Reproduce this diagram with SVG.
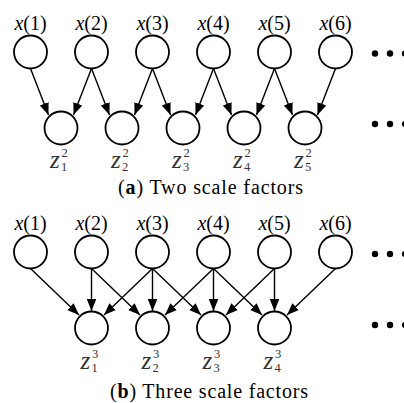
<svg xmlns="http://www.w3.org/2000/svg" width="404" height="403" viewBox="0 0 404 403">
  <style>
    .node { fill: #fff; stroke: #000; stroke-width: 1.8; }
    .edge { stroke: #000; stroke-width: 1.4; fill: none; marker-end: url(#arrow); }
    .dot { fill: #000; }
    text { font-family: 'Liberation Serif', 'DejaVu Serif', serif; }
    .xl { font-size: 20px; fill: #000; text-anchor: middle; }
    .xl .v { font-style: italic; }
    .zl { font-style: italic; font-size: 25px; fill: #333; }
    .sc { font-size: 12.5px; fill: #333; }
    .cap { font-size: 20px; fill: #000; }
    .cap .b { font-weight: bold; }
  </style>
  <defs>
    <marker id="arrow" markerUnits="userSpaceOnUse" markerWidth="13" markerHeight="10" refX="12" refY="4.75" orient="auto">
      <path d="M0,0 L12,4.75 L0,9.5 z" fill="#000"/>
    </marker>
  </defs>

  <!-- (a) two scale factors -->
  <g id="connectors-a">
    <line class="edge" x1="30.5" y1="68.5" x2="48.5" y2="115"/>
    <line class="edge" x1="91.5" y1="68.5" x2="73.5" y2="115"/>
    <line class="edge" x1="91.5" y1="68.5" x2="109.5" y2="115"/>
    <line class="edge" x1="152.5" y1="68.5" x2="134.5" y2="115"/>
    <line class="edge" x1="152.5" y1="68.5" x2="170.5" y2="115"/>
    <line class="edge" x1="213.5" y1="68.5" x2="195.5" y2="115"/>
    <line class="edge" x1="213.5" y1="68.5" x2="231.5" y2="115"/>
    <line class="edge" x1="274.5" y1="68.5" x2="256.5" y2="115"/>
    <line class="edge" x1="274.5" y1="68.5" x2="292.5" y2="115"/>
    <line class="edge" x1="335.5" y1="68.5" x2="317.5" y2="115"/>
  </g>

  <g id="a-x1"><text class="xl" x="30.5" y="30"><tspan class="v">x</tspan>(1)</text><circle class="node" cx="30.5" cy="52" r="16.5"/></g>
  <g id="a-x2"><text class="xl" x="91.5" y="30"><tspan class="v">x</tspan>(2)</text><circle class="node" cx="91.5" cy="52" r="16.5"/></g>
  <g id="a-x3"><text class="xl" x="152.5" y="30"><tspan class="v">x</tspan>(3)</text><circle class="node" cx="152.5" cy="52" r="16.5"/></g>
  <g id="a-x4"><text class="xl" x="213.5" y="30"><tspan class="v">x</tspan>(4)</text><circle class="node" cx="213.5" cy="52" r="16.5"/></g>
  <g id="a-x5"><text class="xl" x="274.5" y="30"><tspan class="v">x</tspan>(5)</text><circle class="node" cx="274.5" cy="52" r="16.5"/></g>
  <g id="a-x6"><text class="xl" x="335.5" y="30"><tspan class="v">x</tspan>(6)</text><circle class="node" cx="335.5" cy="52" r="16.5"/></g>

  <g id="a-z1"><circle class="node" cx="61" cy="128" r="16.5"/><text class="zl" x="50" y="168">z</text><text class="sc" x="61.5" y="157">2</text><text class="sc" x="61" y="171">1</text></g>
  <g id="a-z2"><circle class="node" cx="122" cy="128" r="16.5"/><text class="zl" x="111" y="168">z</text><text class="sc" x="122.5" y="157">2</text><text class="sc" x="122" y="171">2</text></g>
  <g id="a-z3"><circle class="node" cx="183" cy="128" r="16.5"/><text class="zl" x="172" y="168">z</text><text class="sc" x="183.5" y="157">2</text><text class="sc" x="183" y="171">3</text></g>
  <g id="a-z4"><circle class="node" cx="244" cy="128" r="16.5"/><text class="zl" x="233" y="168">z</text><text class="sc" x="244.5" y="157">2</text><text class="sc" x="244" y="171">4</text></g>
  <g id="a-z5"><circle class="node" cx="305" cy="128" r="16.5"/><text class="zl" x="294" y="168">z</text><text class="sc" x="305.5" y="157">2</text><text class="sc" x="305" y="171">5</text></g>

  <g id="a-dots">
    <circle class="dot" cx="375" cy="53.5" r="3.2"/><circle class="dot" cx="390" cy="53.5" r="3.2"/><circle class="dot" cx="405" cy="53.5" r="3.2"/>
    <circle class="dot" cx="375" cy="124" r="3.2"/><circle class="dot" cx="390" cy="124" r="3.2"/><circle class="dot" cx="405" cy="124" r="3.2"/>
  </g>

  <text class="cap" x="118" y="194" textLength="185" lengthAdjust="spacing">(<tspan class="b">a</tspan>) Two scale factors</text>

  <!-- (b) three scale factors -->
  <g id="connectors-b">
    <line class="edge" x1="30.5" y1="268.5" x2="79" y2="315"/>
    <line class="edge" x1="91.5" y1="268.5" x2="91.5" y2="311"/>
    <line class="edge" x1="91.5" y1="268.5" x2="140" y2="315"/>
    <line class="edge" x1="152.5" y1="268.5" x2="104" y2="315"/>
    <line class="edge" x1="152.5" y1="268.5" x2="152.5" y2="311"/>
    <line class="edge" x1="152.5" y1="268.5" x2="201" y2="315"/>
    <line class="edge" x1="213.5" y1="268.5" x2="165" y2="315"/>
    <line class="edge" x1="213.5" y1="268.5" x2="213.5" y2="311"/>
    <line class="edge" x1="213.5" y1="268.5" x2="262" y2="315"/>
    <line class="edge" x1="274.5" y1="268.5" x2="226" y2="315"/>
    <line class="edge" x1="274.5" y1="268.5" x2="274.5" y2="311"/>
    <line class="edge" x1="335.5" y1="268.5" x2="287" y2="315"/>
  </g>

  <g id="b-x1"><text class="xl" x="30.5" y="230"><tspan class="v">x</tspan>(1)</text><circle class="node" cx="30.5" cy="252" r="16.5"/></g>
  <g id="b-x2"><text class="xl" x="91.5" y="230"><tspan class="v">x</tspan>(2)</text><circle class="node" cx="91.5" cy="252" r="16.5"/></g>
  <g id="b-x3"><text class="xl" x="152.5" y="230"><tspan class="v">x</tspan>(3)</text><circle class="node" cx="152.5" cy="252" r="16.5"/></g>
  <g id="b-x4"><text class="xl" x="213.5" y="230"><tspan class="v">x</tspan>(4)</text><circle class="node" cx="213.5" cy="252" r="16.5"/></g>
  <g id="b-x5"><text class="xl" x="274.5" y="230"><tspan class="v">x</tspan>(5)</text><circle class="node" cx="274.5" cy="252" r="16.5"/></g>
  <g id="b-x6"><text class="xl" x="335.5" y="230"><tspan class="v">x</tspan>(6)</text><circle class="node" cx="335.5" cy="252" r="16.5"/></g>

  <g id="b-z1"><circle class="node" cx="91.5" cy="328" r="16.5"/><text class="zl" x="80.5" y="369">z</text><text class="sc" x="92" y="358">3</text><text class="sc" x="91.5" y="372">1</text></g>
  <g id="b-z2"><circle class="node" cx="152.5" cy="328" r="16.5"/><text class="zl" x="141.5" y="369">z</text><text class="sc" x="153" y="358">3</text><text class="sc" x="152.5" y="372">2</text></g>
  <g id="b-z3"><circle class="node" cx="213.5" cy="328" r="16.5"/><text class="zl" x="202.5" y="369">z</text><text class="sc" x="214" y="358">3</text><text class="sc" x="213.5" y="372">3</text></g>
  <g id="b-z4"><circle class="node" cx="274.5" cy="328" r="16.5"/><text class="zl" x="263.5" y="369">z</text><text class="sc" x="275" y="358">3</text><text class="sc" x="274.5" y="372">4</text></g>

  <g id="b-dots">
    <circle class="dot" cx="375" cy="254" r="3.2"/><circle class="dot" cx="390" cy="254" r="3.2"/><circle class="dot" cx="405" cy="254" r="3.2"/>
    <circle class="dot" cx="375" cy="325" r="3.2"/><circle class="dot" cx="390" cy="325" r="3.2"/><circle class="dot" cx="405" cy="325" r="3.2"/>
  </g>

  <text class="cap" x="110" y="398" textLength="198" lengthAdjust="spacing">(<tspan class="b">b</tspan>) Three scale factors</text>
</svg>
